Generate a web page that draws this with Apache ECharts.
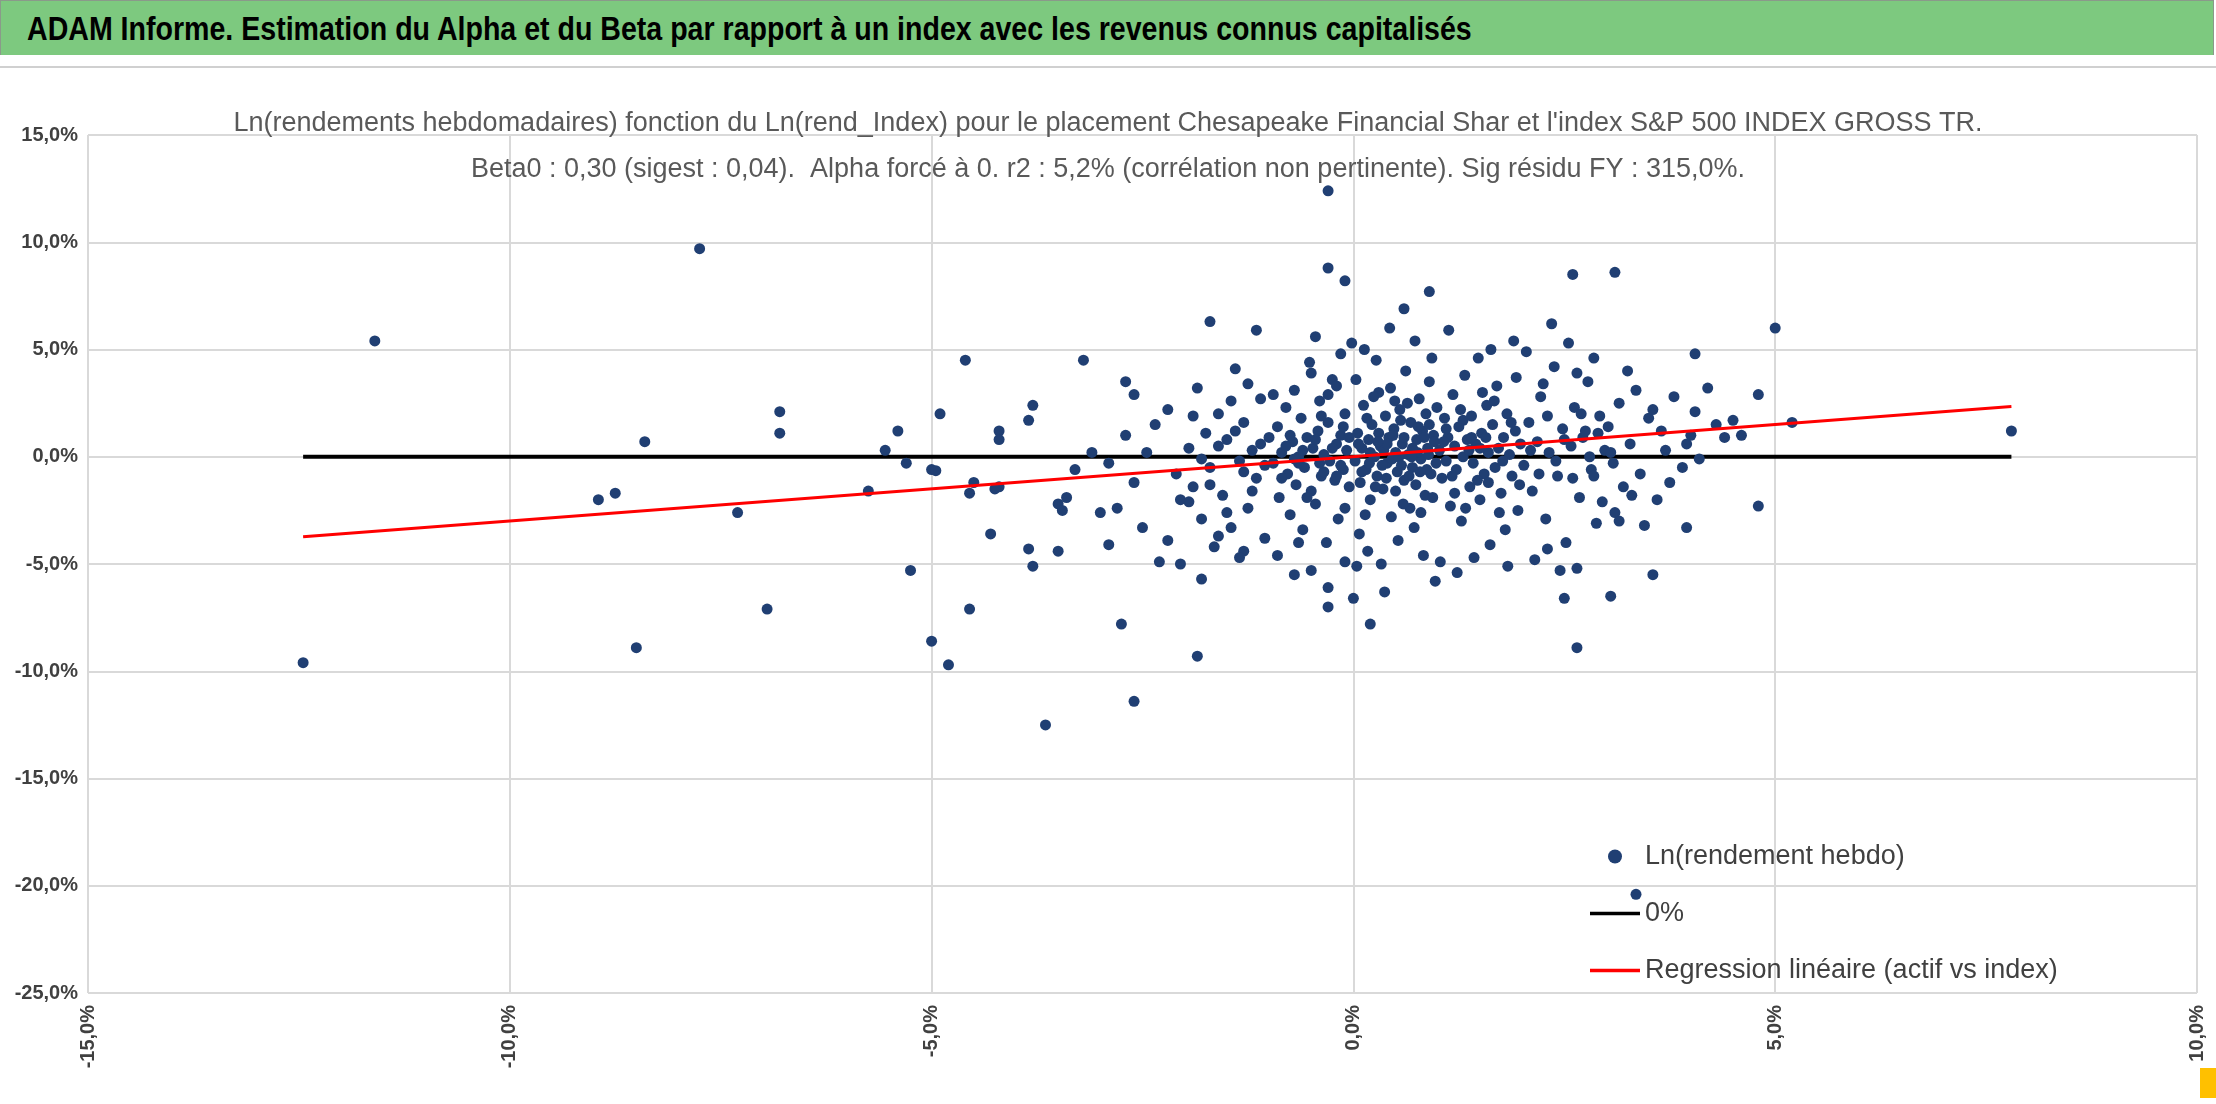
<!DOCTYPE html>
<html>
<head>
	<meta charset="UTF-8">
	<title>ADAM Informe</title>
	<style>
		body { margin:0; background:#fff; }
		#head { position:absolute; left:0; top:0; width:2214px; height:55px; background:#7dc97f; border:1px solid #8a9a8a; border-bottom:none; box-sizing:border-box; overflow:hidden; }
		#head span { display:inline-block; transform:scaleX(0.84); transform-origin:0 50%; white-space:nowrap;
			font-family:'Liberation Sans',sans-serif; font-weight:bold; font-size:34px; line-height:55px; margin-left:26px; color:#000; }
		#chart { position:absolute; left:0; top:66px; width:2216px; height:1038px; border-top:2px solid #d0d0d0; box-sizing:border-box; }
	</style>
</head>
<body>
	<div id="head"><span>ADAM Informe. Estimation du Alpha et du Beta par rapport à un index avec les revenus connus capitalisés</span></div>
	<div id="chart"></div>

	<script src="https://cdn.jsdelivr.net/npm/echarts@6/dist/echarts.min.js"></script>
	<script type="text/javascript">
		// axes (en %)
		var xTicks = [-15, -10, -5, 0, 5, 10];
		var yTicks = [-25, -20, -15, -10, -5, 0, 5, 10, 15];
		var beta = 0.30;
		var xStart = -12.45, xEnd = 7.8;

		// points isolés
		var outliers = [
			[-12.45,-9.6],[-11.6,5.4],[-7.75,9.7],[-8.95,-2.0],[-8.75,-1.7],[-8.4,0.7],[-8.5,-8.9],
			[-7.3,-2.6],[-6.95,-7.1],[-6.8,2.1],[-6.8,1.1],[-5.75,-1.6],[-5.55,0.3],[-5.4,1.2],[-5.3,-0.3],
			[-5.25,-5.3],[-5.0,-0.6],[-4.95,-0.65],[-4.9,2.0],[-5.0,-8.6],[-4.8,-9.7],[-4.6,4.5],[-4.55,-7.1],
			[-4.55,-1.7],[-4.5,-1.2],[-4.2,-1.4],[-4.25,-1.5],[-4.2,1.2],[-4.2,0.8],[-4.3,-3.6],[-3.85,1.7],
			[-3.8,2.4],[-3.8,-5.1],[-3.85,-4.3],[-3.65,-12.5],[-3.5,-2.2],[-3.45,-2.5],[-3.2,4.5],[-2.75,-7.8],
			[-2.6,-11.4],[-2.7,3.5],[-1.85,-9.3],[-1.7,6.3],[-1.8,-5.7],[-0.3,12.4],[-0.3,8.8],[-0.1,8.2],
			[3.1,8.6],[2.6,8.5],[0.9,7.7],[5.0,6.0],[5.2,1.6],[7.8,1.2],[4.8,-2.3],[3.95,-3.3],[4.05,4.8],
			[3.05,-6.5],[2.65,-8.9],[3.55,-5.5],[3.35,-20.4],[-0.3,-7.0],[0.2,-7.8],[0.0,-6.6],[4.8,2.9],
			[-1.3,-4.4],[-0.5,-5.3],[-2.05,-5.0]
		];

		// nuage central
		var cluster = [
			[-2.9,-0.3],[-2.8,-2.4],[-2.7,1.0],[-2.6,-1.2],[-2.5,-3.3],[-2.45,0.2],[-2.3,-4.9],[-2.2,2.2],[-2.1,-0.8],[-2.05,-2.0],
			[-2.9,-4.1],[-3.0,-2.6],[-3.1,0.2],[-3.3,-0.6],[-3.4,-1.9],[-3.5,-4.4],[-2.35,1.5],[-2.2,-3.9],[-2.6,2.9],
			[-1.95,0.4],[-1.9,-1.4],[-1.85,3.2],[-1.8,-2.9],[-1.75,1.1],[-1.7,-0.5],[-1.65,-4.2],[-1.6,2.0],[-1.55,-1.8],[-1.5,0.8],
			[-1.45,-3.3],[-1.4,4.1],[-1.35,-0.2],[-1.3,1.6],[-1.25,-2.4],[-1.2,0.3],[-1.15,-1.0],[-1.1,2.7],[-1.05,-3.8],[-1.0,0.9],
			[-1.9,1.9],[-1.8,-0.1],[-1.7,-1.3],[-1.6,0.5],[-1.5,-2.6],[-1.4,1.2],[-1.3,-0.7],[-1.2,-1.6],[-1.1,0.6],[-1.05,-0.4],
			[-1.25,3.4],[-1.6,-3.7],[-1.95,-2.1],[-1.35,-4.7],[-1.15,5.9],[-1.45,2.6],
			[-0.95,-0.3],[-0.9,1.4],[-0.88,-1.9],[-0.85,0.2],[-0.8,2.3],[-0.78,-0.8],[-0.75,-2.7],[-0.72,0.7],[-0.7,3.1],[-0.68,-1.3],
			[-0.65,0.0],[-0.62,1.8],[-0.6,-3.4],[-0.58,-0.5],[-0.55,0.9],[-0.52,4.4],[-0.5,-1.6],[-0.48,0.4],[-0.45,-2.2],[-0.42,1.2],
			[-0.4,2.6],[-0.38,-0.9],[-0.35,0.1],[-0.32,-4.0],[-0.3,1.6],[-0.28,-0.2],[-0.25,3.6],[-0.22,-1.1],[-0.2,0.6],[-0.18,-2.9],
			[-0.15,1.0],[-0.12,-0.6],[-0.1,2.0],[-0.08,0.3],[-0.05,-1.4],[-0.02,5.3],[-0.9,-4.6],[-0.7,-5.5],[-0.5,3.9],[-0.3,-6.1],
			[-0.15,4.8],[-0.95,2.9],[-0.85,-1.0],[-0.75,1.0],[-0.65,-0.3],[-0.55,-1.9],[-0.45,0.8],[-0.35,-0.7],[-0.25,0.4],[-0.15,-0.4],
			[-0.05,0.9],[-0.6,0.3],[-0.4,-0.3],[-0.2,-0.9],[-0.1,-2.4],[-0.8,0.5],[-0.3,2.9],[-0.45,5.6],[-0.2,3.3],[-0.65,-4.0],
			[-0.1,-4.9],[-0.38,1.9],[-0.7,-0.1],[-0.12,1.4],
			[0.02,-0.2],[0.05,1.1],[0.08,-1.2],[0.1,0.4],[0.12,2.4],[0.15,-0.6],[0.18,0.8],[0.2,-2.0],[0.22,1.5],[0.25,0.0],
			[0.28,-0.9],[0.3,3.0],[0.32,0.5],[0.35,-1.5],[0.38,1.9],[0.4,-0.3],[0.42,0.9],[0.45,-2.8],[0.48,1.3],[0.5,0.2],
			[0.52,-0.7],[0.55,2.2],[0.58,0.6],[0.6,-1.1],[0.62,4.0],[0.65,0.1],[0.68,1.6],[0.7,-0.5],[0.72,-3.3],[0.75,0.8],
			[0.78,2.7],[0.8,-0.1],[0.82,1.2],[0.85,-1.8],[0.88,0.4],[0.9,3.5],[0.92,-0.8],[0.95,1.0],[0.98,-0.3],[0.03,3.6],
			[0.07,-3.6],[0.13,5.0],[0.17,-4.4],[0.27,4.5],[0.33,-5.0],[0.43,6.0],[0.53,-3.9],[0.6,6.9],[0.67,-2.4],[0.73,5.4],
			[0.83,-4.6],[0.93,4.6],[0.97,-5.8],[0.06,0.6],[0.16,1.8],[0.26,-1.4],[0.36,0.3],[0.46,-0.1],[0.56,1.7],[0.66,-0.9],
			[0.76,0.2],[0.86,2.0],[0.96,0.7],[0.1,-0.7],[0.2,0.2],[0.3,1.1],[0.4,0.6],[0.5,-1.6],[0.6,0.9],[0.7,0.4],
			[0.8,-2.6],[0.9,1.5],[0.14,-2.7],[0.24,2.8],[0.34,-0.4],[0.44,3.2],[0.54,0.0],[0.64,2.5],[0.74,-1.3],[0.84,0.9],
			[0.94,-1.9],[0.04,-5.1],[0.37,-6.3],[0.47,1.0],[0.57,-0.4],[0.77,1.4],[0.87,-0.6],[0.19,-0.3],[0.29,0.7],[0.39,-1.0],
			[0.49,2.6],[0.59,-2.2],[0.69,0.0],[0.79,-0.7],[0.89,0.1],[0.99,2.3],
			[1.02,0.3],[1.05,-1.0],[1.08,1.8],[1.1,-0.2],[1.12,0.9],[1.15,-2.3],[1.18,2.9],[1.2,0.5],[1.22,-0.6],[1.25,1.4],
			[1.28,-3.0],[1.3,0.0],[1.32,3.8],[1.35,0.8],[1.38,-1.4],[1.4,1.9],[1.42,-0.3],[1.45,0.6],[1.48,4.6],[1.5,-2.0],
			[1.52,1.1],[1.55,-0.8],[1.58,2.4],[1.6,0.2],[1.62,-4.1],[1.65,1.5],[1.68,-0.5],[1.7,3.3],[1.72,0.4],[1.75,-1.7],
			[1.78,0.9],[1.8,-3.4],[1.82,2.0],[1.85,0.1],[1.88,-0.9],[1.9,5.4],[1.92,1.2],[1.95,-2.5],[1.98,0.6],[1.03,-4.9],
			[1.13,5.9],[1.23,-5.4],[1.43,-4.7],[1.63,5.0],[1.83,-5.1],[1.07,0.7],[1.17,-0.9],[1.27,2.2],[1.37,0.3],[1.47,-1.1],
			[1.57,0.9],[1.67,2.6],[1.77,-0.2],[1.87,1.6],[1.97,-1.3],[1.33,-2.4],[1.53,3.0],[1.73,-2.6],[1.93,3.7],[1.1,1.3],
			[1.4,0.9],[1.6,-1.2],[1.2,-1.7],[1.5,0.4],[1.3,1.7],
			[2.02,-0.4],[2.08,1.6],[2.12,-1.6],[2.18,0.7],[2.22,2.8],[2.28,-2.9],[2.32,0.2],[2.38,4.2],[2.42,-0.9],[2.48,1.3],
			[2.52,-4.0],[2.58,0.5],[2.62,2.3],[2.68,-1.9],[2.72,0.9],[2.78,3.5],[2.82,-0.6],[2.88,-3.1],[2.92,1.9],[2.98,0.3],
			[2.05,4.9],[2.15,-4.8],[2.35,6.2],[2.45,-5.3],[2.55,5.3],[2.65,-5.2],[2.75,1.2],[2.85,4.6],[2.95,-2.1],[2.1,0.3],
			[2.2,-0.8],[2.3,1.9],[2.4,-0.2],[2.5,0.8],[2.6,-1.0],[2.7,2.0],[2.8,0.0],[2.9,1.1],[2.25,3.4],[2.5,-6.6],
			[2.3,-4.3],[2.65,3.9],[2.85,-0.9],
			[3.02,1.4],[3.08,-0.3],[3.15,2.5],[3.2,-1.4],[3.28,0.6],[3.35,3.1],[3.4,-0.8],[3.5,1.8],[3.6,-2.0],[3.7,0.3],
			[3.8,2.8],[3.9,-0.5],[4.0,1.0],[4.2,3.2],[4.3,1.5],[4.5,1.7],[4.6,1.0],[3.1,-2.6],[3.25,4.0],[3.45,-3.2],
			[3.55,2.2],[3.75,-1.2],[3.95,0.6],[4.1,-0.1],[4.4,0.9],[3.3,-1.8],[3.65,1.2],[3.05,0.2],[3.15,-3.0],[4.05,2.1]
		];

		var points = outliers.concat(cluster);

		function pct(v) {
			return v.toFixed(1).replace('.', ',') + '%';
		}

		var myChart = echarts.init(document.getElementById('chart'));
		var font = "'Liberation Sans',sans-serif";
		var lineIcon = 'path://M0,0L100,0L100,7L0,7Z';

		var option = {
			animation: false,
			textStyle: { fontFamily: font },
			title: {
				text: "Ln(rendements hebdomadaires) fonction du Ln(rend_Index) pour le placement Chesapeake Financial Shar et l'index S&P 500 INDEX GROSS TR.\nBeta0 : 0,30 (sigest : 0,04).  Alpha forcé à 0. r2 : 5,2% (corrélation non pertinente). Sig résidu FY : 315,0%.",
				left: 'center',
				top: 28,
				textStyle: { fontFamily: font, fontSize: 27, fontWeight: 'normal', color: '#595959', lineHeight: 46 }
			},
			legend: {
				orient: 'vertical',
				left: 1585,
				top: 770,
				itemGap: 30,
				itemWidth: 50,
				itemHeight: 14,
				textStyle: { fontFamily: font, fontSize: 27, color: '#404040' },
				data: [
					{ name: 'Ln(rendement hebdo)', icon: 'circle' },
					{ name: '0%', icon: lineIcon },
					{ name: 'Regression linéaire (actif vs index)', icon: lineIcon }
				]
			},
			grid: { left: 88, right: 19, top: 67, bottom: 111 },
			xAxis: {
				type: 'value',
				min: -15, max: 10, interval: 5,
				axisLine: { show: false },
				axisTick: { show: false },
				splitLine: { lineStyle: { color: '#d9d9d9', width: 2 } },
				axisLabel: { rotate: 90, fontSize: 20, color: '#404040', fontWeight: 'bold', formatter: pct, margin: 12 }
			},
			yAxis: {
				type: 'value',
				min: -25, max: 15, interval: 5,
				axisLine: { show: false },
				axisTick: { show: false },
				splitLine: { lineStyle: { color: '#d9d9d9', width: 2 } },
				axisLabel: { fontSize: 20, color: '#404040', fontWeight: 'bold', formatter: pct, margin: 10 }
			},
			series: [{
				name: 'Ln(rendement hebdo)',
				type: 'scatter',
				symbolSize: 11,
				itemStyle: { color: '#203f73', opacity: 1 },
				data: points,
				z: 3
			}, {
				name: '0%',
				type: 'line',
				symbol: 'none',
				lineStyle: { color: '#000', width: 4 },
				itemStyle: { color: '#000' },
				data: [[xStart, 0], [xEnd, 0]],
				z: 2
			}, {
				name: 'Regression linéaire (actif vs index)',
				type: 'line',
				symbol: 'none',
				lineStyle: { color: '#ff0000', width: 3 },
				itemStyle: { color: '#ff0000' },
				data: [[xStart, beta * xStart], [xEnd, beta * xEnd]],
				z: 4
			}],
			graphic: [
				{ type: 'rect', shape: { x: 0, y: -12, width: 18, height: 12 }, style: { fill: '#ffc000' } },
				{ type: 'rect', shape: { x: 2200, y: -12, width: 16, height: 12 }, style: { fill: '#ffc000' } },
				{ type: 'rect', shape: { x: 2200, y: 1000, width: 16, height: 30 }, style: { fill: '#ffc000' } }
			]
		};

		myChart.setOption(option);
	</script>
</body>
</html>
